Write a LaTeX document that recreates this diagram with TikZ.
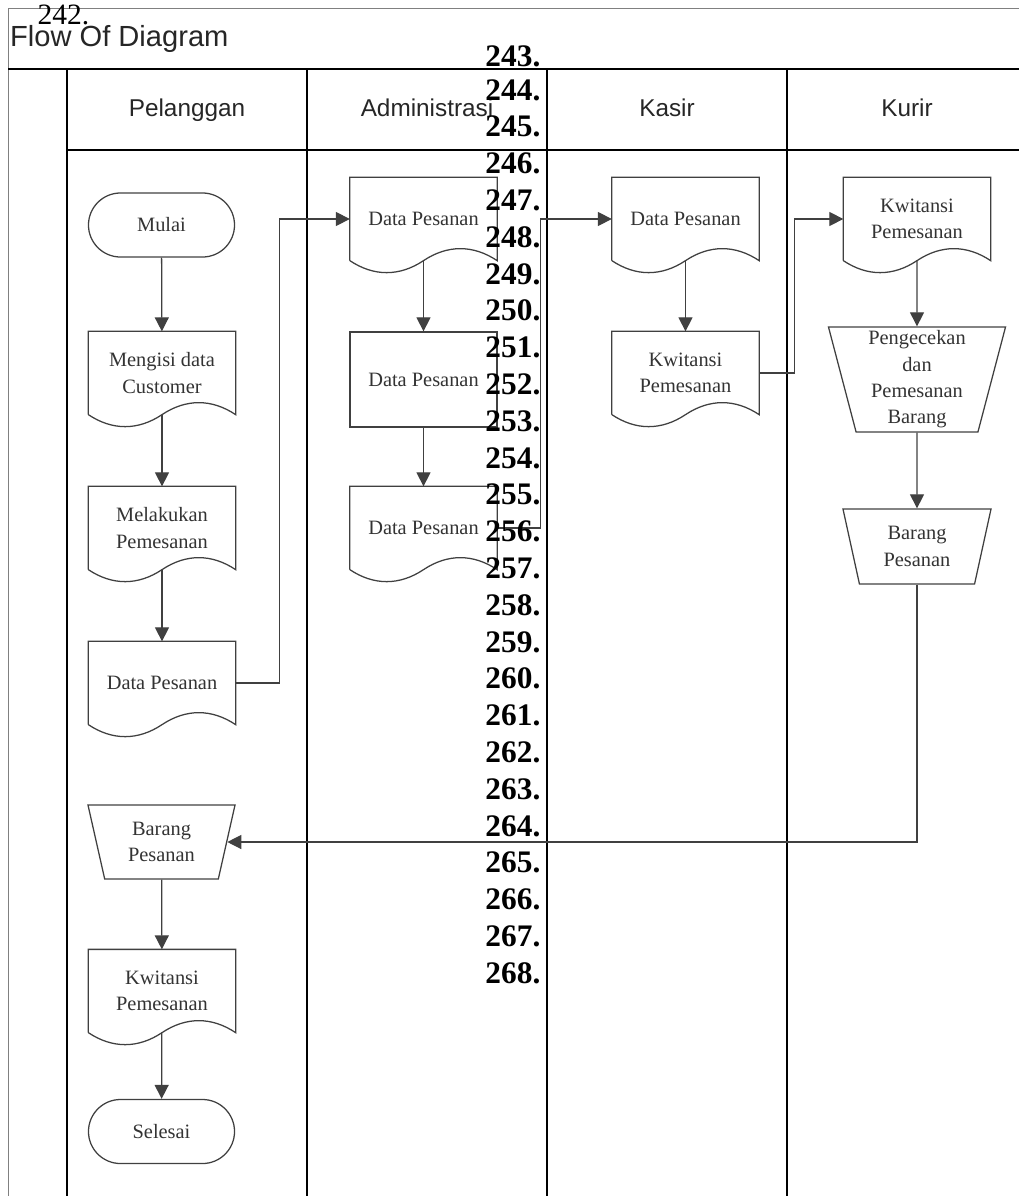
\documentclass[tikz,border=0pt]{standalone}
\usepackage{fontspec}
\setmainfont{Liberation Serif}
\setsansfont{Liberation Sans}
\usetikzlibrary{arrows.meta, shapes.geometric}

\begin{document}
\begin{tikzpicture}[x=0.025cm, y=-0.025cm, line width=0.9pt,
    lane/.style={line width=1pt, black},
    shapetext/.style={font=\fontsize{14.5}{18.7}\selectfont, text=black!80, align=center, inner sep=0pt},
    terminal/.style={shapetext, draw=black!75, rectangle, rounded corners=0.8cm, minimum width=3.65cm, minimum height=1.6cm},
    doc/.style={shapetext, minimum width=3.65cm, minimum height=2.05cm},
    process/.style={shapetext, draw=black!75, rectangle, minimum width=3.675cm, minimum height=2.375cm},
    manual/.style={shapetext, draw=black!75, trapezium, shape border rotate=180, trapezium stretches body, inner sep=1pt},
    flow/.style={draw=black!75, -{Triangle[length=0.35cm, width=0.35cm]}},
    lanehead/.style={font=\sffamily\fontsize{17.3}{20}\selectfont, text=black!85, anchor=base},
    linenum/.style={font=\bfseries\fontsize{22.3}{26}\selectfont, anchor=base east, inner sep=0pt}]
    \useasboundingbox (0,0) rectangle (1019,1196);

    % draw pool and lanes
    \draw[black!50, line width=0.6pt] (8,1196) -- (8,8) -- (1019,8);
    \draw[line width=2pt] (8,69) -- (1019,69);
    \draw[lane] (67,69) -- (67,1196);
    \draw[lane] (67,150) -- (1019,150);
    \foreach \x in {307,547,787}
        \draw[lane] (\x,69) -- (\x,1196);

    % draw title and lane names
    \node[font=\sffamily\fontsize{20.7}{24}\selectfont, text=black!85, anchor=base west, inner sep=0pt] (title) at (9.5,46.7) {Flow Of Diagram};
    \node[lanehead] (hpel) at (187,116.5) {Pelanggan};
    \node[lanehead] (hadm) at (427,116.5) {Administrasi};
    \node[lanehead] (hkas) at (667,116.5) {Kasir};
    \node[lanehead] (hkur) at (907,116.5) {Kurir};

    % Pelanggan
    \node[terminal] (pl1) at (161.5,225) {Mulai};
    \node[doc] (pl2) at (162,373) {Mengisi data\\Customer};
    \node[doc] (pl3) at (162,528) {Melakukan\\Pemesanan};
    \node[doc] (pl4) at (162,683) {Data Pesanan};
    \node[manual, trapezium angle=68.6, minimum width=3.675cm, minimum height=1.85cm] (pl5) at (161.5,842) {Barang\\Pesanan};
    \node[doc] (pl6) at (162,991) {Kwitansi\\Pemesanan};
    \node[terminal] (pl7) at (161.5,1131.5) {Selesai};

    % Administrasi
    \node[doc] (ad1) at (423.5,219) {Data Pesanan};
    \node[process] (ad2) at (423.5,379.5) {Data Pesanan};
    \node[doc] (ad3) at (423.5,528) {Data Pesanan};

    % Kasir
    \node[doc] (ks1) at (685.5,219) {Data Pesanan};
    \node[doc] (ks2) at (685.5,373) {Kwitansi\\Pemesanan};

    % Kurir
    \node[doc] (kr1) at (917,219) {Kwitansi\\Pemesanan};
    \node[manual, trapezium angle=74.6, minimum width=4.425cm, minimum height=2.625cm] (kr2) at (917,379.5) {Pengecekan\\dan\\Pemesanan\\Barang};
    \node[manual, trapezium angle=68.9, minimum width=3.7cm, minimum height=1.875cm] (kr3) at (917,546.5) {Barang\\Pesanan};

    % draw document outlines
    \foreach \n in {pl2,pl3,pl4,pl6,ad1,ad3,ks1,ks2,kr1}
        \draw[black!75] (\n.south west) -- (\n.north west) -- (\n.north east) -- (\n.south east)
            .. controls +(-24,-16) and +(24,-16) .. (\n.south)
            .. controls +(-24,16) and +(24,16) .. (\n.south west);

    % draw flows
    \draw[flow] (pl1) -- (pl2);
    \draw[flow] (pl2) -- (pl3);
    \draw[flow] (pl3) -- (pl4);
    \draw[flow] (pl4.east) -- ++(44,0) |- (ad1.west);
    \draw[flow] (ad1) -- (ad2);
    \draw[flow] (ad2) -- (ad3);
    \draw[flow] (ad3.east) -- ++(43,0) |- (ks1.west);
    \draw[flow] (ks1) -- (ks2);
    \draw[flow] (ks2.east) -- ++(35,0) |- (kr1.west);
    \draw[flow] (kr1) -- (kr2);
    \draw[flow] (kr2) -- (kr3);
    \draw[flow] (kr3.south) |- (pl5.east);
    \draw[flow] (pl5) -- (pl6);
    \draw[flow] (pl6) -- (pl7);

    % line numbers
    \node[font=\fontsize{21}{24}\selectfont, anchor=base west, inner sep=0pt] (n242) at (37,25) {242.};
    \node[linenum] (n243) at (541,67) {243.};
    \foreach \i [evaluate=\i as \yy using {100+(\i-244)*36.8}] in {244,...,268}
        \node[linenum] (n\i) at (541,\yy) {\i.};
\end{tikzpicture}
\end{document}
